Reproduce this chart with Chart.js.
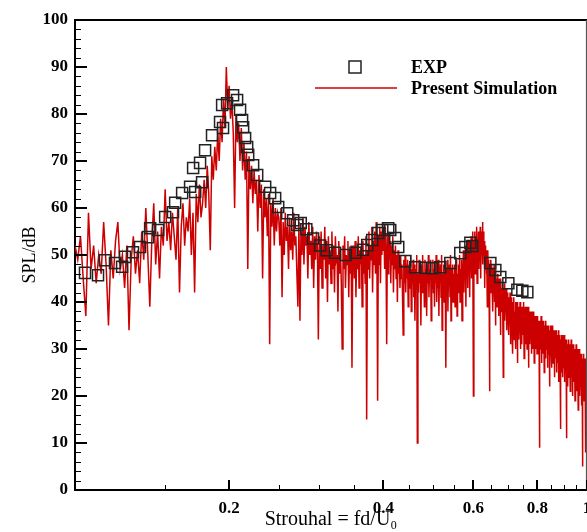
<!DOCTYPE html>
<html><head><meta charset="utf-8">
<script src="https://cdn.jsdelivr.net/npm/chart.js@4/dist/chart.umd.min.js"></script>
<style>
html,body{margin:0;padding:0;background:#fff;overflow:hidden;width:587px;height:532px}
#wrap{width:587px;height:532px;overflow:hidden;position:relative}
canvas{position:absolute;left:0;top:0}
</style></head>
<body><div id="wrap"><canvas id="c" width="600" height="532"></canvas></div>
<script>
// Simulation spectrum: evenly spaced Strouhal bins
const simStart = 0.1, simStep = 0.00125;
const simSPL = [
52,49,54,45,37,59,47,52,44,50,46,57,48,35,51,45,53,57,47,50,43,52,34,49,54,46,51,44,55,49,60,50,39,53,61,48,55,45,56,52,
64,53,57,51,59,54,49,60,42,56,61,52,58,55,62,50,59,42,63,57,65,58,61,66,60,69,63,51,71,66,73,68,76,70,79,74,83,77,90,81,
86,79,83,76,60,80,74,78,70,77,68,74,66,72,47,71,64,69,61,68,63,66,55,67,60,65,45,64,58,62,54,63,31,61,56,62,52,60,55,59,
58,52,60,41,57,50,59,53,56,47,58,51,55,49,59,52,54,46,39,57,36,55,50,58,48,56,52,54,45,57,50,53,47,56,43,54,49,55,51,32,
54,47,55,43,52,49,56,45,53,40,54,48,51,44,55,47,52,42,54,49,50,38,53,46,51,44,30,52,47,54,43,50,48,53,41,51,46,52,26,50,
52,45,53,41,50,47,54,43,51,48,52,39,53,46,50,44,54,15,51,47,55,45,52,49,56,42,53,48,55,46,57,50,19,54,48,56,44,55,50,57,
51,55,47,56,50,31,54,46,55,49,53,44,52,48,54,42,51,47,52,45,50,40,51,46,49,43,50,45,48,41,33,49,44,50,42,48,45,49,39,47,
48,43,50,38,47,44,49,41,48,36,47,43,50,10,46,42,49,44,47,35,48,42,50,45,46,39,49,43,47,37,48,44,50,41,47,45,49,36,46,43,
49,42,47,39,48,44,50,40,46,43,49,37,47,45,48,41,50,34,46,43,48,40,49,44,26,47,42,49,38,46,44,48,41,50,36,47,43,48,40,46,
43,48,39,47,44,49,37,46,42,48,45,50,40,47,44,49,36,48,45,51,42,49,46,52,39,50,47,53,43,51,48,53,41,52,47,54,45,53,49,55,
20,53,48,55,46,54,50,56,44,53,49,55,47,54,51,56,45,55,50,54,57,48,55,51,53,43,52,48,51,46,50,39,51,47,49,44,21,48,45,49,
42,48,44,47,38,46,43,48,40,46,35,47,42,45,39,46,41,44,37,45,42,44,33,45,40,43,38,44,41,24,43,39,44,36,42,40,43,34,42,38,
42,36,41,33,40,37,42,31,39,35,41,34,40,29,39,36,41,32,38,35,40,30,39,36,40,27,38,34,39,32,38,35,40,30,37,34,39,31,38,33,
39,34,40,28,38,35,39,31,37,33,39,30,38,35,39,26,37,33,38,31,37,34,38,29,36,33,38,30,37,32,38,27,36,33,37,30,36,32,37,29,
37,32,36,29,35,31,9,36,30,35,33,37,27,35,31,36,29,34,32,36,25,35,31,34,28,36,30,34,32,35,26,34,29,35,31,33,22,34,30,35,
34,29,35,26,33,30,35,27,33,29,34,24,33,30,34,28,32,25,34,29,33,27,32,30,34,23,32,28,33,26,13,32,28,33,25,31,29,33,24,32,
31,26,33,23,31,28,32,25,31,27,11,32,26,31,22,30,28,32,24,30,27,31,21,30,26,32,24,29,27,31,20,30,25,31,23,29,26,30,19,29,
30,25,31,21,29,26,30,22,29,17,30,24,28,26,30,20,29,23,28,25,29,18,28,24,5,28,22,27,25,29,19,27,23,28,21,27,8,26,24,27,28
];

// Experimental data
const expSt = [0.1046,0.1109,0.1144,0.1197,0.1236,0.1252,0.1298,0.1340,0.1389,0.1402,0.1453,0.1500,0.1554,0.1569,0.1619,0.1678,0.1701,0.1717,0.1755,0.1771,0.1795,0.1852,0.1920,0.1938,0.1946,0.1982,0.2036,0.2073,0.2101,0.2120,0.2130,0.2149,0.2169,0.2179,0.2228,0.2269,0.2352,0.2405,0.2460,0.2494,0.2597,0.2668,0.2716,0.2760,0.2830,0.2918,0.3012,0.3100,0.3220,0.3380,0.3530,0.3650,0.3722,0.3806,0.3911,0.3982,0.4091,0.4128,0.4221,0.4279,0.4416,0.4619,0.4831,0.4986,0.5169,0.5408,0.5656,0.5786,0.5918,0.5971,0.6475,0.6622,0.6771,0.7021,0.7311,0.7477,0.7646];
const expSPL = [46.2,45.7,48.9,48.3,47.5,49.6,50.6,51.7,53.8,55.7,55.3,58.1,59.1,61.1,63.2,64.5,68.5,63.4,69.6,65.5,72.3,75.5,78.3,81.9,77,82.3,84,83,80.9,78.7,77.2,74.9,73,71.3,69.1,67,64.5,63.2,62.1,60.2,58.9,57.4,56.4,56.8,55.5,53.5,52,51,50.5,50,50.5,51.1,52.1,53.2,54.7,55.3,55.7,55.3,53.6,51.7,48.7,47.4,47.3,47.2,47.4,48.3,50.4,51.7,52.6,51.9,48.3,46.8,45.3,44,42.6,42.4,42.1];

// Axis ticks
const xMajorTicks = [0.2,0.4,0.6,0.8,1];
const xTickLabels = ['0.2','0.4','0.6','0.8','1'];
const xMinorTicks = [0.15,0.25,0.3,0.35,0.45,0.5,0.55,0.65,0.7,0.75,0.85,0.9,0.95];
const yMajorStep = 10, yMinorStep = 2;

const seriesNames = ['EXP','Present Simulation'];
const serif = "'Liberation Serif','DejaVu Serif',serif";

const simData = simSPL.map((v,i)=>({x:+(simStart+i*simStep).toFixed(5), y:v}));
const expData = expSt.map((x,i)=>({x:x, y:expSPL[i]}));

const decor = {
  id:'decor',
  afterDraw(chart){
    const ctx = chart.ctx, a = chart.chartArea;
    const xs = chart.scales.x, ys = chart.scales.y;
    ctx.save();
    ctx.strokeStyle = '#000';
    ctx.lineWidth = 2;
    ctx.beginPath();
    ctx.moveTo(a.left, a.top); ctx.lineTo(a.right, a.top);
    ctx.stroke();
    ctx.lineWidth = 1.2; ctx.strokeStyle='#555';
    ctx.beginPath(); ctx.moveTo(a.right-0.5, a.top); ctx.lineTo(a.right-0.5, a.bottom); ctx.stroke();
    ctx.strokeStyle = '#000';
    for (let v=0; v<=100; v+=yMinorStep){
      const y = Math.round(ys.getPixelForValue(v));
      const major = v % yMajorStep === 0;
      ctx.lineWidth = major ? 2 : 1;
      const yy = major ? y : y+0.5;
      ctx.beginPath(); ctx.moveTo(a.left, yy); ctx.lineTo(a.left + (major?12:6), yy); ctx.stroke();
    }
    xMajorTicks.forEach(v=>{
      const x = Math.round(xs.getPixelForValue(v));
      ctx.lineWidth = 2;
      ctx.beginPath(); ctx.moveTo(x, a.bottom); ctx.lineTo(x, a.bottom-10); ctx.stroke();
    });
    xMinorTicks.forEach(v=>{
      const x = Math.round(xs.getPixelForValue(v))+0.5;
      ctx.lineWidth = 1;
      ctx.beginPath(); ctx.moveTo(x, a.bottom); ctx.lineTo(x, a.bottom-5); ctx.stroke();
    });
    // legend
    const y1 = a.top + 47, y2 = a.top + 68;
    ctx.lineWidth = 1.5; ctx.strokeStyle = '#222';
    ctx.strokeRect(355-6, y1-6, 12, 12);
    ctx.strokeStyle = '#cc0000'; ctx.lineWidth = 1.5;
    ctx.beginPath(); ctx.moveTo(315, y2); ctx.lineTo(397, y2); ctx.stroke();
    ctx.fillStyle = '#000';
    ctx.font = "bold 18px " + serif;
    ctx.textBaseline = 'middle'; ctx.textAlign = 'left';
    ctx.fillText(seriesNames[0], 411, y1+1);
    ctx.fillText(seriesNames[1], 411, y2+1);
    ctx.restore();
  }
};

new Chart(document.getElementById('c'), {
  type:'scatter',
  data:{datasets:[
    {label:seriesNames[0], data:expData, showLine:false, pointStyle:'rect', pointRadius:7.8,
     borderColor:'#222', borderWidth:1.5, backgroundColor:'rgba(0,0,0,0)'},
    {label:seriesNames[1], data:simData, showLine:true, pointRadius:0, borderColor:'#cc0000',
     borderWidth:1.5, tension:0, fill:false}
  ]},
  options:{
    responsive:false, animation:false,
    layout:{padding:{left:0,right:13,top:20,bottom:0}},
    plugins:{legend:{display:false}, tooltip:{enabled:false}},
    scales:{
      x:{type:'logarithmic', min:0.1, max:1,
        afterBuildTicks:s=>{ s.ticks = xMajorTicks.map(v=>({value:v})); },
        afterFit:s=>{ s.height = 42; },
        ticks:{autoSkip:false, maxRotation:0, padding:8, color:'#000',
          font:{family:serif, weight:'bold', size:17},
          callback:(v)=>{ const k = xMajorTicks.indexOf(v); return k>=0 ? xTickLabels[k] : ''; }},
        grid:{display:false, drawTicks:false},
        border:{display:true, color:'#000', width:2},
        title:{display:true, text:'Strouhal = fd/U\u2080', color:'#000', font:{family:serif, size:20}, padding:{top:0,bottom:0}}
      },
      y:{type:'linear', min:0, max:100,
        afterFit:s=>{ s.width = 75; },
        ticks:{stepSize:yMajorStep, padding:7, color:'#000', font:{family:serif, weight:'bold', size:17}},
        grid:{display:false, drawTicks:false},
        border:{display:true, color:'#000', width:2},
        title:{display:true, text:'SPL/dB', color:'#000', font:{family:serif, size:18}, padding:{top:19,bottom:0}}
      }
    }
  },
  plugins:[decor]
});
</script>
</body></html>
